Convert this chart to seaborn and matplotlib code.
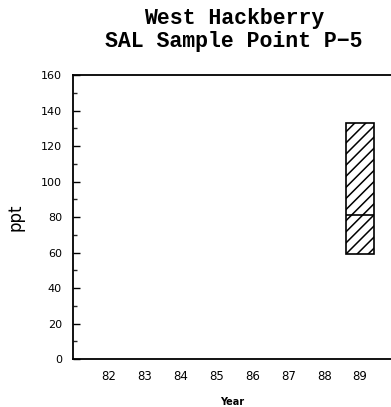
import matplotlib
matplotlib.use("Agg")
import matplotlib.pyplot as plt
from matplotlib.ticker import MultipleLocator
import seaborn as sns
import pandas as pd

# Salinity summary for sample point P-5 (ppt)
years = [89]
q1 = [59]
median = [81]
q3 = [133]
year_ticks = [82, 83, 84, 85, 86, 87, 88, 89]

# Expand each summary into a five-value sample whose quartiles are q1/median/q3
rows = []
for yr, lo, md, hi in zip(years, q1, median, q3):
    for v in (lo, lo, md, hi, hi):
        rows.append({"Year": yr, "ppt": v})
df = pd.DataFrame(rows)

sns.set_theme(style="white")
plt.rcParams["font.family"] = ["DejaVu Sans"]
plt.rcParams["text.color"] = "black"
plt.rcParams["axes.labelcolor"] = "black"
plt.rcParams["hatch.linewidth"] = 1.1

fig = plt.figure(figsize=(3.91, 4.07), dpi=100)
ax = fig.add_axes([0.1867, 0.1179, 0.8133, 0.6978])

sns.boxplot(
    data=df, x="Year", y="ppt", native_scale=True, width=0.78,
    color="white", linecolor="black", linewidth=1.2,
    showcaps=False, whis=0, fliersize=0, ax=ax,
)
for patch in ax.patches:
    patch.set_hatch("///")
    patch.set_facecolor("white")
    patch.set_edgecolor("black")

ax.set_xlim(81, 89.86)
ax.set_ylim(0, 160)
ax.set_xticks(year_ticks)
ax.set_xticklabels([str(t) for t in year_ticks])
ax.yaxis.set_major_locator(MultipleLocator(20))
ax.yaxis.set_minor_locator(MultipleLocator(10))

for side in ("left", "bottom", "top"):
    ax.spines[side].set_visible(True)
    ax.spines[side].set_color("black")
    ax.spines[side].set_linewidth(1.3)
ax.spines["right"].set_visible(False)

ax.tick_params(axis="y", which="major", direction="in", length=5, width=1,
               left=True, labelsize=8, pad=8, colors="black")
ax.tick_params(axis="y", which="minor", direction="in", length=3, width=1, left=True)
ax.tick_params(axis="x", which="major", direction="in", length=0, labelsize=8.5,
               pad=8, colors="black")

ax.set_xlabel("Year", fontsize=7, fontweight="bold", labelpad=10)
ax.set_ylabel("ppt", fontsize=12, labelpad=12)

title_family = ["Liberation Mono", "DejaVu Sans Mono"]
fig.text(0.598, 0.955, "West Hackberry", ha="center", va="center",
         family=title_family, fontweight="bold", fontsize=15.5)
fig.text(0.598, 0.899, "SAL Sample Point P\u22125", ha="center", va="center",
         family=title_family, fontweight="bold", fontsize=15.5)

fig.savefig("out.png", dpi=100, facecolor="white")
